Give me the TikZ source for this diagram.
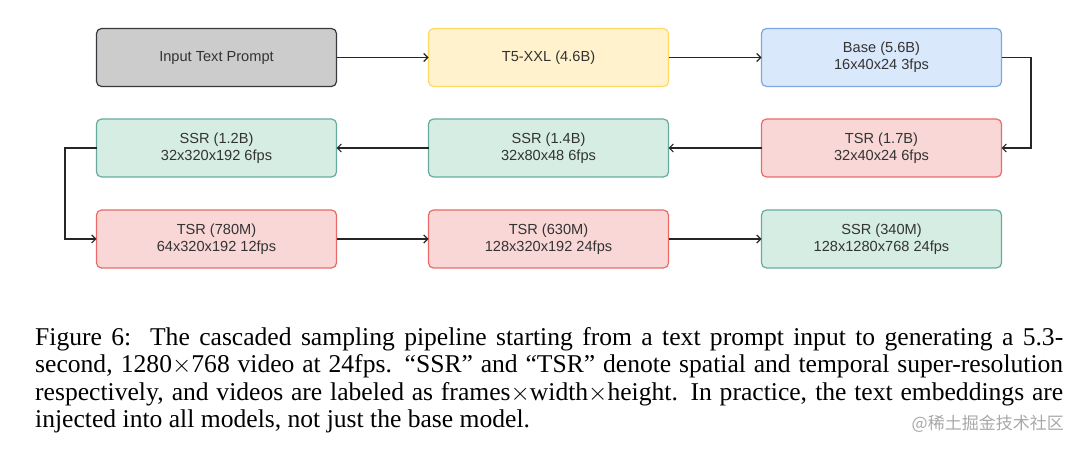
\documentclass[tikz,border=0pt]{standalone}
\usepackage{fontspec}
\setmainfont{Liberation Serif}
\newfontfamily\boxfont{Liberation Sans}
\newfontfamily\cjkfont{Noto Sans CJK SC}
\usetikzlibrary{arrows.meta}
\definecolor{grayfill}{HTML}{CCCCCC}
\definecolor{graydraw}{HTML}{36393D}
\definecolor{yelfill}{HTML}{FFF2CC}
\definecolor{yeldraw}{HTML}{FFD966}
\definecolor{bluefill}{HTML}{DAE8FC}
\definecolor{bluedraw}{HTML}{7EA6E0}
\definecolor{redfill}{HTML}{F8D7D6}
\definecolor{reddraw}{HTML}{EA6B66}
\definecolor{grnfill}{HTML}{D5EDE2}
\definecolor{grndraw}{HTML}{67AB9F}
\definecolor{boxtext}{HTML}{333333}
\definecolor{wmark}{HTML}{A8A8A8}
\tikzset{
  mbox/.style={rectangle, rounded corners=5pt, line width=1.2pt,
    minimum width=240pt, minimum height=58pt, inner sep=0pt, outer sep=0pt,
    align=center, text=boxtext,
    font=\boxfont\fontsize{14.6}{17}\selectfont},
  graybox/.style={mbox, fill=grayfill, draw=graydraw},
  yelbox/.style={mbox, fill=yelfill, draw=yeldraw},
  bluebox/.style={mbox, fill=bluefill, draw=bluedraw},
  redbox/.style={mbox, fill=redfill, draw=reddraw},
  grnbox/.style={mbox, fill=grnfill, draw=grndraw},
  conn/.style={line width=1.1pt, draw=black!85, -{Straight Barb[length=4pt,width=8pt,line width=1.1pt]}},
  capline/.style={anchor=base west, inner sep=0pt, text height=17pt, text depth=5pt,
    font=\fontsize{25.6}{27.5}\selectfont},
}
\newcommand{\capfill}[1]{\makebox[1028pt][s]{#1}}
\begin{document}
\begin{tikzpicture}[x=1pt,y=-1pt]
\useasboundingbox (0,0) rectangle (1080,449);
\node[graybox] (input) at (216.5,57.5) {Input Text Prompt};
\node[yelbox] (t5) at (548.5,57.5) {T5-XXL (4.6B)};
\node[bluebox] (base) at (881.5,57.5) {Base (5.6B)\\16x40x24 3fps};
\node[redbox] (tsr1) at (881.5,148) {TSR (1.7B)\\32x40x24 6fps};
\node[grnbox] (ssr1) at (548.5,148) {SSR (1.4B)\\32x80x48 6fps};
\node[grnbox] (ssr2) at (216.5,148) {SSR (1.2B)\\32x320x192 6fps};
\node[redbox] (tsr2) at (216.5,239) {TSR (780M)\\64x320x192 12fps};
\node[redbox] (tsr3) at (548.5,239) {TSR (630M)\\128x320x192 24fps};
\node[grnbox] (ssr3) at (881.5,239) {SSR (340M)\\128x1280x768 24fps};
\coordinate (rc1) at (1031,57.5);
\coordinate (rc2) at (1031,148);
\coordinate (lc1) at (65,148);
\coordinate (lc2) at (65,239);
\draw[conn] (input) -- (t5);
\draw[conn] (t5) -- (base);
\draw[conn] (base.east) -- (rc1) -- (rc2) -- (tsr1.east);
\draw[conn] (tsr1) -- (ssr1);
\draw[conn] (ssr1) -- (ssr2);
\draw[conn] (ssr2.west) -- (lc1) -- (lc2) -- (tsr2.west);
\draw[conn] (tsr2) -- (tsr3);
\draw[conn] (tsr3) -- (ssr3);
\node[capline] (cap1) at (35,345) {\capfill{Figure 6:\ \ The cascaded sampling pipeline starting from a text prompt input to generating a 5.3-}};
\node[capline] (cap2) at (35,372.5) {\capfill{second, 1280$\times$768 video at 24fps. “SSR” and “TSR” denote spatial and temporal super-resolution}};
\node[capline] (cap3) at (35,400) {\capfill{respectively, and videos are labeled as frames$\times$width$\times$height. In practice, the text embeddings are}};
\node[capline] (cap4) at (35,427.5) {injected into all models, not just the base model.};
\node[anchor=base east, inner sep=0pt, text=wmark, font=\cjkfont\fontsize{17}{20}\selectfont] (wm) at (1064,429) {@稀土掘金技术社区};
\end{tikzpicture}
\end{document}
